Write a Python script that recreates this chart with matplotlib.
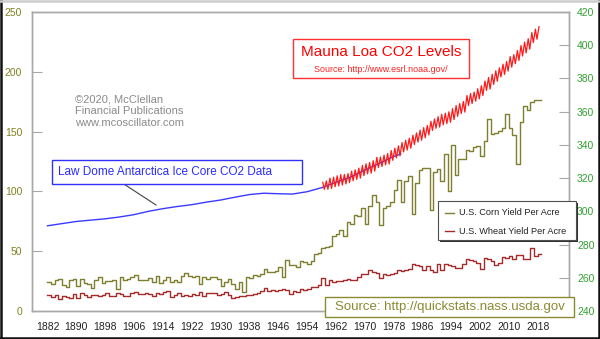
import matplotlib
matplotlib.use("Agg")
import matplotlib.pyplot as plt
from matplotlib.patches import Rectangle
from matplotlib.lines import Line2D

plt.rcParams['font.family'] = ['Liberation Sans', 'DejaVu Sans']

# ---------------- data ----------------
yield_years = list(range(1882, 2019))
corn_yield = [24.6, 22.7, 25.8, 26.5, 22.0, 20.1, 26.3, 27.0, 20.7, 27.0,
              23.1, 22.5, 19.4, 26.2, 28.2, 23.8, 25.1, 25.3, 25.9, 18.2,
              28.1, 25.9, 26.8, 28.8, 30.3, 25.9, 26.2, 25.9, 27.9, 23.9,
              29.2, 23.1, 25.8, 28.2, 24.4, 26.3, 24.0, 28.9, 31.5, 29.6,
              28.3, 29.3, 22.9, 28.8, 27.0, 28.5, 28.2, 26.8, 20.5, 24.5,
              26.5, 22.8, 18.7, 24.2, 16.1, 28.2, 27.7, 29.9, 28.9, 31.2,
              35.4, 32.6, 33.0, 33.1, 37.2, 28.6, 43.0, 38.2, 38.2, 36.9,
              41.8, 40.7, 39.4, 42.0, 47.4, 48.3, 52.8, 53.1, 54.7, 62.4,
              64.7, 67.9, 62.9, 74.1, 73.1, 80.1, 79.5, 85.9, 72.4, 88.1,
              97.0, 91.3, 71.9, 86.4, 88.0, 90.8, 101.0, 109.5, 91.0, 108.9,
              113.2, 81.1, 106.7, 118.0, 119.4, 119.8, 84.6, 116.3, 118.5, 108.6,
              131.5, 100.7, 138.6, 113.5, 127.1, 126.7, 134.4, 133.8, 136.9, 138.2,
              129.3, 142.2, 160.3, 147.9, 149.1, 150.7, 153.3, 164.4, 152.6, 146.8,
              123.1, 158.1, 171.0, 168.4, 174.6, 176.6, 176.4]
wheat_yield = [13.6, 11.6, 13.0, 10.4, 12.4, 12.1, 11.1, 13.9, 11.1, 15.3,
               13.4, 11.4, 13.2, 13.7, 12.4, 13.4, 15.3, 12.3, 12.3, 15.0,
               14.5, 12.9, 12.5, 14.7, 15.5, 14.0, 14.0, 15.4, 13.9, 12.4,
               15.1, 14.4, 16.1, 16.7, 11.9, 13.2, 14.8, 12.8, 13.5, 12.7,
               13.8, 13.4, 16.0, 12.8, 14.7, 14.7, 15.4, 13.0, 14.2, 16.3,
               13.1, 11.2, 12.1, 12.2, 12.8, 13.6, 13.3, 14.1, 15.3, 16.8,
               19.5, 16.4, 17.7, 17.0, 17.2, 18.2, 17.9, 14.5, 16.5, 16.0,
               18.4, 17.3, 18.1, 19.8, 20.2, 21.8, 27.5, 21.6, 26.1, 23.9,
               25.0, 25.2, 25.8, 26.5, 26.3, 25.8, 28.4, 30.6, 31.0, 33.9,
               32.7, 31.6, 27.3, 30.6, 30.3, 30.7, 31.4, 34.2, 33.5, 34.5,
               35.5, 39.4, 38.8, 37.5, 34.4, 37.7, 34.1, 32.7, 39.5, 34.3,
               39.3, 38.2, 37.6, 35.8, 36.3, 39.5, 43.2, 42.7, 42.0, 40.2,
               35.0, 44.2, 43.2, 42.0, 38.6, 40.2, 44.9, 44.5, 46.3, 43.6,
               47.2, 47.1, 43.7, 43.6, 52.7, 46.4, 47.9]

law_dome_years = [1882, 1886, 1890, 1894, 1898, 1902, 1906, 1910, 1914, 1918,
                  1922, 1926, 1930, 1934, 1938, 1942, 1946, 1950, 1954, 1958,
                  1962, 1966, 1970, 1974, 1978, 1980]
law_dome_co2 = [291.3, 292.6, 293.9, 294.7, 295.5, 296.6, 298.0, 300.0, 301.6, 302.9,
                304.0, 305.5, 306.8, 308.5, 310.1, 310.9, 310.6, 310.4, 311.8, 314.2,
                317.5, 320.5, 324.8, 328.8, 333.0, 334.5]

mlo_years = list(range(1958, 2019))
mlo_may_peak = [317.5, 318.3, 320.0, 320.6, 321.4, 322.1, 322.2, 322.7, 324.2, 325.0,
                326.0, 327.6, 328.6, 329.4, 330.5, 332.5, 332.7, 333.8, 334.8, 336.6,
                338.0, 339.4, 341.4, 342.8, 344.0, 345.8, 347.2, 348.9, 350.4, 351.7,
                354.2, 355.6, 357.0, 358.4, 359.1, 359.9, 361.8, 363.7, 364.9, 366.1,
                369.7, 370.9, 371.8, 373.8, 375.6, 378.4, 380.6, 382.5, 384.6, 386.4,
                388.6, 390.2, 393.2, 394.3, 396.8, 399.8, 401.9, 403.9, 407.6, 409.7,
                411.2]
mlo_fall_low = [313.2, 313.3, 313.8, 314.8, 315.3, 315.8, 316.5, 317.3, 318.4, 319.2,
                320.0, 321.5, 322.6, 323.0, 324.2, 326.4, 327.0, 328.0, 328.5, 330.7,
                332.2, 333.4, 335.8, 336.9, 338.0, 340.2, 341.7, 342.8, 344.3, 346.0,
                348.7, 350.0, 350.7, 352.1, 352.8, 353.6, 355.2, 357.2, 358.9, 359.7,
                363.7, 364.9, 366.3, 367.7, 369.7, 372.8, 373.6, 376.4, 378.3, 380.9,
                382.4, 384.4, 386.8, 388.9, 390.8, 393.5, 395.4, 397.6, 401.6, 403.6,
                405.1]

x_tick_years = list(range(1882, 2019, 8))
left_ticks = [0, 50, 100, 150, 200, 250]
right_ticks = list(range(240, 421, 20))

# ---------------- colors ----------------
CORN = '#7f7f2f'
WHEAT = '#a52a2a'
BLUE = '#3a3aff'
RED = '#ff1a1a'
OLIVE_TXT = '#808020'
GREEN_TXT = '#33a033'
SPINE = '#a8a8a8'

W, H = 600, 339
fig = plt.figure(figsize=(6.0, 3.39), dpi=100)
fig.patch.set_facecolor('white')

def fx(x):
    return x / W

def fy(y):
    return 1 - y / H

ax_l, ax_r, ax_t, ax_b = 32, 568.7, 12, 311
ax = fig.add_axes([fx(ax_l), fy(ax_b), (ax_r - ax_l) / W, (ax_b - ax_t) / H])
ax2 = ax.twinx()

# yields on left axis (step, each year's value held to the next year)
xs = yield_years + [yield_years[-1] + 1]
ax.step(xs, corn_yield + [corn_yield[-1]], where='post', color=CORN, lw=1.0, zorder=3)
ax.step(xs, wheat_yield + [wheat_yield[-1]], where='post', color=WHEAT, lw=1.0, zorder=3)

# CO2 on right axis
ax2.plot(law_dome_years, law_dome_co2, color=BLUE, lw=1.0, zorder=2)
zig_x, zig_y = [], []
for yr, pk, lo in zip(mlo_years, mlo_may_peak, mlo_fall_low):
    zig_x += [yr + 0.37, yr + 0.79]
    zig_y += [pk, lo]
zig_x = zig_x[:-1]
zig_y = zig_y[:-1]
ax2.plot(zig_x, zig_y, color=RED, lw=0.9, zorder=4)

ax.set_xlim(1877.7, 2026.6)
ax.set_ylim(0, 250)
ax2.set_ylim(240, 420)

ax.set_xticks(x_tick_years)
ax.set_xticklabels([str(y) for y in x_tick_years])
ax.set_yticks(left_ticks)
ax2.set_yticks(right_ticks)

ax.tick_params(axis='x', length=0, pad=8, labelsize=7.5, labelcolor='#222222')
ax.tick_params(axis='y', direction='in', length=7, width=0.8, color=SPINE,
               pad=7, labelsize=7.5, labelcolor=OLIVE_TXT)
ax2.tick_params(axis='y', direction='in', length=7, width=0.8, color=SPINE,
                pad=6, labelsize=7.5, labelcolor=GREEN_TXT)
for a in (ax, ax2):
    for s in a.spines.values():
        s.set_color(SPINE)
        s.set_linewidth(1.0)
ax.set_zorder(ax2.get_zorder() + 1)
ax.patch.set_visible(False)

# ---------------- annotations ----------------
def box(x0, y0, x1, y1, ec, lw=1.0, z=10):
    r = Rectangle((fx(x0), fy(y1)), (x1 - x0) / W, (y1 - y0) / H,
                  transform=fig.transFigure, facecolor='white', edgecolor=ec,
                  lw=lw, zorder=z)
    fig.add_artist(r)

# Mauna Loa title
box(292.7, 39.3, 469, 78.3, '#ff3030')
fig.text(fx(380.8), fy(52.5), 'Mauna Loa CO2 Levels', color='#ff0000', fontsize=11,
         ha='center', va='center', zorder=11)
fig.text(fx(380.8), fy(70), 'Source: http://www.esrl.noaa.gov/', color='#ff2020',
         fontsize=6.4, ha='center', va='center', zorder=11)

# copyright
fig.text(fx(75), fy(111), '©2020, McClellan\nFinancial Publications\nwww.mcoscillator.com',
         color='#8a8a8a', fontsize=8, ha='left', va='center', linespacing=1.2, zorder=11)

# Law Dome label with pointer line
fig.add_artist(Line2D([fx(124.3), fx(156)], [fy(184.3), fy(205)], transform=fig.transFigure,
                      color='#404040', lw=0.8, zorder=9))
box(51.7, 160, 301.7, 184.3, '#3030ff')
fig.text(fx(58.3), fy(172), 'Law Dome Antarctica Ice Core CO2 Data', color='#2a2aff',
         fontsize=8.5, ha='left', va='center', zorder=11)

# legend with shadow
sh = Rectangle((fx(440), fy(242)), (578 - 440) / W, (242 - 203) / H,
               transform=fig.transFigure, facecolor='#303030', edgecolor='none', zorder=9)
fig.add_artist(sh)
box(438, 201, 576, 240, '#505050', lw=0.8)
for yy, col, lab in [(212.7, CORN, 'U.S. Corn Yield Per Acre'),
                     (231, WHEAT, 'U.S. Wheat Yield Per Acre')]:
    fig.add_artist(Line2D([fx(445), fx(454)], [fy(yy), fy(yy)], transform=fig.transFigure,
                          color=col, lw=1.0, zorder=11))
    fig.text(fx(459), fy(yy), lab, color='#222222', fontsize=6.6, ha='left', va='center',
             zorder=11)

# bottom source box
box(325, 296.7, 574, 317.3, '#8a8a30')
fig.text(fx(449.5), fy(307.3), 'Source: http://quickstats.nass.usda.gov', color='#8a8a30',
         fontsize=9.5, ha='center', va='center', zorder=11)

# figure border
for xa, ya, c in [([0.5, 0.5], [0, H], '#111111'),
                  ([0, W], [H - 1, H - 1], '#111111'),
                  ([W - 0.8, W - 0.8], [0, H], '#111111'),
                  ([0, W], [0.5, 0.5], '#cccccc')]:
    fig.add_artist(Line2D([fx(v) for v in xa], [fy(v) for v in ya],
                          transform=fig.transFigure, color=c, lw=1.8, zorder=20))

fig.savefig('out.png', dpi=100)
